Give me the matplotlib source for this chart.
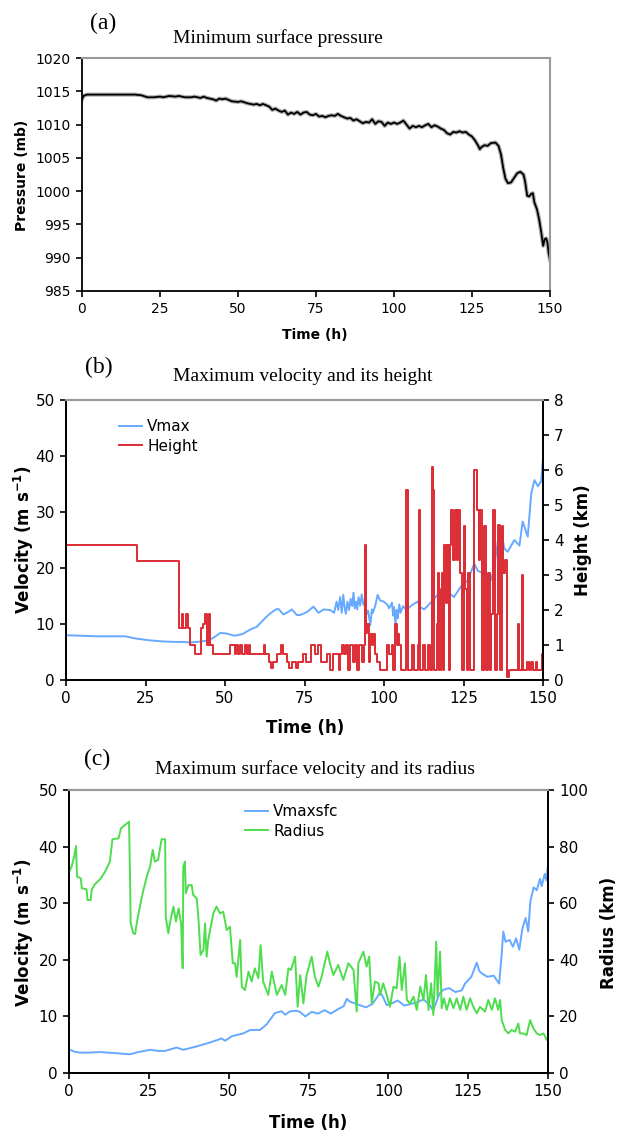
import numpy as np
import matplotlib
matplotlib.use('Agg')
import matplotlib.pyplot as plt

plt.rcParams['font.family'] = 'DejaVu Sans'
plt.rcParams['mathtext.fontset'] = 'dejavusans'

# (a) minimum surface pressure, (time h, mb)
pressure = [(0, 1013.8), (0.5, 1014.3), (1.5, 1014.5), (8, 1014.5), (17, 1014.5), (19, 1014.4),
            (21, 1014.1), (23, 1014.1), (25, 1014.2), (26, 1014.1), (28, 1014.3), (30, 1014.2),
            (31, 1014.3), (33, 1014.1), (35, 1014.1), (36, 1014.2), (38, 1014.0), (39, 1014.2),
            (40, 1014.0), (42, 1013.8), (43, 1013.6), (44, 1013.9), (45, 1013.8), (46, 1013.9),
            (48, 1013.5), (50, 1013.4), (51, 1013.5), (53, 1013.2), (55, 1013.0), (56, 1013.1),
            (57, 1012.9), (58, 1013.1), (59, 1012.9), (60, 1012.7), (61, 1012.2), (62, 1012.4),
            (63, 1012.1), (64, 1011.9), (65, 1012.1), (66, 1011.5), (67, 1011.8), (68, 1011.6),
            (69, 1011.9), (70, 1011.5), (71, 1011.8), (72, 1011.9), (73, 1011.5), (74, 1011.4),
            (75, 1011.6), (76, 1011.2), (77, 1011.3), (78, 1011.1), (79, 1011.3), (80, 1011.4),
            (81, 1011.3), (82, 1011.6), (83, 1011.3), (84, 1011.1), (85, 1010.9), (86, 1011.0),
            (87, 1010.6), (88, 1010.8), (89, 1010.5), (90, 1010.2), (91, 1010.4), (92, 1010.3),
            (93, 1010.8), (94, 1010.1), (95, 1010.5), (96, 1010.4), (97, 1009.8), (98, 1010.3),
            (99, 1010.1), (100, 1010.3), (101, 1010.1), (102, 1010.3), (103, 1010.6), (104, 1010.0),
            (105, 1009.4), (106, 1009.8), (107, 1009.6), (108, 1009.8), (109, 1009.6),
            (110, 1009.9), (111, 1010.1), (112, 1009.6), (113, 1009.9), (114, 1009.7),
            (115, 1009.4), (116, 1009.2), (117, 1008.7), (118, 1008.5), (119, 1008.9),
            (120, 1008.8), (121, 1009.0), (122, 1008.8), (123, 1008.9), (124, 1008.5),
            (125, 1008.2), (126, 1007.6), (127, 1006.8), (127.5, 1006.3), (128, 1006.6),
            (129, 1006.9), (130, 1006.8), (131, 1007.2), (132.5, 1007.3), (133.5, 1006.8),
            (134.3, 1005.5), (135, 1003.5), (135.7, 1001.9), (136.5, 1001.2), (137.5, 1001.3),
            (138.5, 1002.0), (139.5, 1002.7), (140.5, 1002.9), (141.5, 1002.5), (142, 1001.5),
            (142.7, 999.3), (143.3, 999.2), (144, 999.6), (144.5, 999.7), (145, 998.3),
            (145.8, 997.3), (146.5, 995.8), (147.2, 993.8), (147.8, 991.8), (148.3, 992.8),
            (148.8, 992.9), (149.2, 992.2), (149.6, 990.6), (150, 989.7)]

# (b) maximum velocity (m/s) and its height (km)
vmax = [(0, 8.0), (5, 7.9), (10, 7.8), (15, 7.8), (18.6, 7.8), (22, 7.4), (26, 7.1), (30, 6.9),
        (34, 6.8), (37, 6.8), (39, 6.7), (41, 6.8), (43, 6.9), (44.8, 7.1), (46.5, 7.6), (48.5, 8.4),
        (50.5, 8.3), (53, 7.9), (55.5, 8.2), (57.9, 9.0), (60, 9.5), (62, 10.7), (64, 11.8),
        (66, 12.6), (66.8, 12.7), (68.4, 11.7), (70, 12.2), (71, 12.6), (72.6, 11.6), (73.6, 11.6),
        (75.7, 12.1), (77.8, 13.1), (79.4, 12.0), (81, 12.6), (83, 12.5), (84.3, 12.0),
        (85.1, 14.0), (85.6, 12.5), (86.2, 14.8), (86.7, 12.0), (87.2, 15.2), (87.6, 13.0),
        (88, 11.8), (88.5, 14.0), (89, 12.5), (89.5, 14.5), (90, 13.2), (90.4, 15.6), (90.8, 12.8),
        (91.2, 14.0), (91.6, 12.6), (92, 14.8), (92.5, 13.3), (93, 15.3), (93.5, 13.5),
        (94.1, 13.1), (94.6, 11.8), (95, 12.4), (95.7, 9.8), (96.2, 12.6), (96.5, 12.0),
        (97.3, 13.4), (98, 15.2), (98.8, 14.2), (99.9, 14.0), (101, 13.5), (101.6, 12.8),
        (102.5, 13.8), (102.9, 11.5), (103.2, 13.0), (103.6, 10.0), (104.0, 12.5), (104.3, 11.0),
        (104.8, 13.5), (105.2, 12.0), (106, 13.2), (107, 12.5), (108.4, 13.2), (110.5, 14.0),
        (111.5, 13.0), (112.6, 12.6), (113.5, 13.1), (114.7, 13.8), (116.8, 15.2), (118.9, 16.1),
        (120.5, 15.5), (122, 14.8), (124.2, 16.7), (126.3, 17.8), (128.4, 20.8), (129.5, 19.5),
        (131, 19.1), (132.5, 18.5), (133.6, 17.8), (134.5, 19.5), (135.7, 24.4), (136.8, 27.0),
        (137.8, 23.5), (138.9, 22.9), (140, 24.0), (141, 25.0), (142.6, 24.0), (143.6, 28.3),
        (145.2, 25.6), (146.3, 33.3), (147.3, 35.7), (148.4, 34.6), (149.4, 35.5), (150, 39.6)]

height = [(0, 3.86), (22.4, 3.41), (35.6, 1.5), (36.4, 1.9), (36.9, 1.5), (37.6, 1.9), (38.3, 1.5),
          (39.0, 1.0), (40.6, 0.74), (42.4, 1.5), (43.0, 1.6), (43.6, 1.9), (44.4, 1.0), (44.9, 1.9),
          (45.3, 1.0), (46.3, 0.74), (51.6, 1.0), (53.0, 0.74), (53.5, 1.0), (54.2, 0.74), (54.8, 1.0),
          (55.5, 0.74), (56.2, 1.0), (56.8, 0.74), (57.4, 1.0), (58.0, 0.74), (62.2, 1.0), (62.6, 0.74),
          (63.8, 0.52), (64.5, 0.33), (65.0, 0.52), (66.5, 0.74), (67.6, 1.0), (68.2, 0.74),
          (69.5, 0.52), (70.2, 0.33), (71.0, 0.52), (72.3, 0.33), (73.0, 0.52), (74.6, 0.74),
          (75.6, 0.52), (77.2, 1.0), (78.2, 0.74), (79.3, 1.0), (80.3, 0.52), (82.0, 0.74),
          (83.0, 0.3), (84.1, 0.74), (85.7, 0.3), (86.2, 0.74), (86.7, 1.0), (87.4, 0.74), (88.0, 1.0),
          (88.8, 0.3), (89.3, 1.0), (90.2, 0.52), (90.9, 1.0), (91.6, 0.3), (92.2, 1.0), (93.0, 0.52),
          (93.8, 1.0), (94.1, 3.86), (94.4, 1.35), (94.8, 1.6), (95.2, 0.52), (95.6, 1.32),
          (96.1, 1.0), (96.6, 1.32), (97.1, 0.74), (97.7, 0.52), (98.7, 0.3), (101.0, 1.0),
          (101.6, 0.74), (102.4, 1.0), (102.9, 0.3), (103.5, 1.6), (104.0, 1.0), (104.3, 1.32),
          (104.8, 1.0), (105.5, 0.3), (107.0, 5.43), (107.4, 0.3), (108.9, 1.0), (109.4, 0.3),
          (110.7, 1.0), (111.0, 4.86), (111.3, 0.3), (112.4, 1.0), (112.9, 0.3), (113.9, 1.0),
          (114.4, 0.3), (115.0, 6.1), (115.4, 5.43), (115.8, 0.3), (116.6, 1.6), (117.0, 3.05),
          (117.4, 0.3), (117.9, 2.6), (118.2, 3.05), (118.6, 0.3), (119.0, 3.86), (119.4, 2.2),
          (119.8, 3.86), (120.3, 0.3), (120.7, 3.86), (121.2, 4.86), (121.8, 3.43), (122.3, 4.86),
          (122.8, 3.43), (123.4, 4.86), (123.9, 3.05), (124.4, 0.3), (125.0, 4.4), (125.5, 2.6),
          (126.0, 0.3), (126.5, 3.05), (127.0, 0.3), (128.4, 6.0), (129.4, 4.86), (129.8, 3.43),
          (130.2, 4.86), (130.7, 0.3), (131.6, 4.4), (132.0, 0.3), (132.8, 3.05), (133.3, 0.3),
          (133.8, 1.9), (134.4, 4.86), (134.9, 0.3), (135.4, 1.9), (135.9, 4.43), (136.4, 0.3),
          (137.0, 4.4), (137.5, 3.05), (138.1, 3.43), (138.6, 0.1), (139.3, 0.3), (142.2, 1.6),
          (142.6, 0.3), (143.3, 3.0), (143.7, 0.3), (145.0, 0.52), (145.5, 0.3), (146.1, 0.52),
          (146.8, 0.3), (147.7, 0.52), (148.2, 0.3), (149.6, 0.74), (150, 0.3)]

# (c) maximum surface velocity (m/s) and its radius (km)
vmaxsfc = [(0, 4.2), (1.5, 3.8), (3.4, 3.6), (6, 3.6), (9.7, 3.7), (12, 3.6), (14.9, 3.5),
           (19.1, 3.3), (21.7, 3.7), (25.4, 4.1), (28, 3.9), (30.1, 3.9), (33.7, 4.5), (35.8, 4.1),
           (40, 4.7), (44.2, 5.4), (47.8, 6.1), (48.9, 5.7), (51, 6.5), (54.6, 7.0), (56.7, 7.6),
           (59.8, 7.6), (61.9, 8.6), (64.5, 10.6), (66.6, 10.9), (67.7, 10.3), (69.2, 10.9),
           (71.3, 11.0), (72.3, 10.8), (74, 10.0), (76, 10.8), (78, 10.5), (80, 11.1), (82, 10.5),
           (84, 11.2), (86, 11.8), (87, 13.1), (88, 12.6), (89, 12.4), (91, 12.0), (93, 11.6),
           (95, 12.2), (96.5, 13.4), (97.4, 14.2), (98, 13.8), (99.5, 12.0), (101, 12.3),
           (103, 12.8), (105, 11.9), (107, 12.2), (109, 12.5), (111, 13.0), (113, 12.0),
           (114, 11.0), (115, 12.5), (116, 14.0), (117.2, 14.7), (119, 15.0), (121, 14.3),
           (123, 14.6), (124, 15.8), (126, 17.0), (127.7, 19.5), (128.5, 18.0), (129.5, 17.5),
           (131, 17.0), (133, 17.2), (134.7, 15.8), (135.5, 21.0), (136, 25.0), (136.7, 23.2),
           (138, 23.5), (139, 22.3), (140, 23.8), (141, 21.8), (142, 25.6), (143, 27.4),
           (143.8, 25.0), (144.5, 30.4), (145.5, 32.8), (146.5, 32.3), (147.5, 34.3), (148, 33.0),
           (149, 35.2), (149.5, 34.0), (150, 36.8)]

radius = [(0, 71.1), (0.8, 72.9), (1.6, 76.4), (2.2, 80.2), (2.5, 69.4), (3.7, 68.8), (4.0, 65.3),
          (5.5, 64.9), (5.8, 61.1), (6.8, 61.1), (7.1, 64.7), (8.1, 66.7), (9.7, 68.4), (11.3, 71.1),
          (12.8, 74.7), (13.6, 82.6), (15.5, 82.9), (16.3, 86.5), (17.5, 87.6), (18.8, 88.8),
          (19.1, 70.0), (19.3, 53.1), (20.1, 49.4), (20.7, 49.1), (21.4, 54.1), (22.2, 58.8),
          (23.3, 64.7), (24.5, 70.0), (25.4, 72.9), (26.2, 78.8), (26.9, 74.7), (27.9, 75.3),
          (29.0, 82.6), (30.1, 82.6), (30.3, 55.2), (31.1, 49.4), (31.6, 52.9), (32.7, 58.8),
          (33.5, 53.5), (34.3, 58.2), (35.1, 52.9), (35.6, 37.0), (35.8, 72.9), (36.3, 74.7),
          (36.6, 63.5), (37.4, 66.4), (38.4, 66.4), (38.9, 62.9), (40.0, 61.7), (40.5, 55.2),
          (41.2, 41.7), (42.1, 43.5), (42.6, 52.9), (43.1, 41.1), (43.6, 47.0), (45.2, 56.4),
          (46.2, 58.8), (47.3, 56.4), (48.3, 57.0), (49.4, 50.5), (50.4, 51.7), (51.3, 38.8),
          (52.0, 38.8), (52.5, 34.0), (53.6, 47.0), (54.1, 30.5), (55.1, 29.3), (56.2, 35.8),
          (57.2, 32.3), (58.2, 37.0), (59.3, 33.5), (60.0, 45.2), (60.8, 32.3), (62.4, 27.6),
          (63.5, 35.8), (65.1, 27.6), (66.6, 31.1), (67.7, 27.6), (68.7, 37.0), (69.5, 36.4),
          (70.8, 41.1), (71.6, 23.4), (72.4, 34.6), (73.4, 24.6), (74.4, 34.6), (76.0, 41.1),
          (77.0, 34.0), (78.1, 30.5), (79.1, 34.0), (80.9, 42.9), (81.7, 38.8), (82.8, 34.6),
          (84.3, 38.2), (85.9, 32.9), (87.5, 38.8), (89.1, 36.4), (90.1, 21.7), (90.6, 38.8),
          (92.2, 42.9), (93.2, 37.6), (94.0, 41.1), (94.8, 24.6), (95.8, 32.3), (96.9, 31.7),
          (97.4, 27.6), (98.4, 31.7), (99.5, 27.6), (100.5, 23.4), (101.6, 30.5), (102.6, 29.9),
          (103.5, 41.1), (104.2, 29.3), (105.2, 38.8), (105.8, 25.8), (106.8, 24.6), (107.9, 27.0),
          (108.9, 22.3), (110.0, 30.5), (111.0, 25.8), (111.8, 34.6), (112.6, 22.3), (113.4, 31.7),
          (114.1, 20.5), (115.0, 46.4), (115.4, 27.0), (116.2, 42.9), (116.7, 22.9), (117.4, 26.4),
          (118.3, 22.3), (119.3, 26.4), (120.4, 22.9), (121.4, 26.4), (122.5, 22.3), (123.5, 27.0),
          (124.5, 22.3), (125.6, 26.4), (126.6, 23.4), (127.7, 21.1), (128.7, 23.4), (130.3, 21.7),
          (131.3, 25.8), (132.4, 22.3), (133.4, 26.4), (134.4, 22.3), (135.0, 25.8), (135.5, 18.7),
          (136.6, 15.2), (137.6, 14.0), (138.6, 15.2), (139.7, 14.6), (140.7, 17.5), (141.2, 14.0),
          (142.3, 14.0), (143.3, 13.4), (144.4, 18.7), (145.4, 15.8), (146.5, 14.0), (147.5, 13.4),
          (148.6, 14.0), (149.6, 11.7), (150, 12.8)]

time_ticks = [0, 25, 50, 75, 100, 125, 150]

blue = '#66aaff'
red = '#dd2c34'
green = '#4ddd4d'
W, H = 620., 1132.


def px(x, y):
    return x / W, 1 - y / H


def style(ax, right_dark=False):
    ax.spines['top'].set_color('#9a9a9a')
    ax.spines['top'].set_linewidth(1.5)
    ax.spines['right'].set_color('black' if right_dark else '#9a9a9a')
    ax.spines['right'].set_linewidth(1.5 if not right_dark else 1.3)
    ax.spines['left'].set_linewidth(1.3)
    ax.spines['bottom'].set_linewidth(1.3)
    ax.tick_params(direction='out', length=4, width=1.2, labelsize=11, pad=4)
    ax.set_xlim(0, 150)
    ax.set_xticks(time_ticks)


fig = plt.figure(figsize=(6.2, 11.32), dpi=100)

# ---- (a)
ax_a = fig.add_axes([82 / W, 1 - 291 / H, 468 / W, 233 / H])
t, p = np.array(pressure).T
ax_a.plot(t, p, color='#b0b0b0', lw=3.0)
ax_a.plot(t, p, color='black', lw=1.3)
style(ax_a)
ax_a.set_ylim(985, 1020)
ax_a.set_yticks(np.arange(985, 1021, 5))
ax_a.tick_params(labelsize=10)

# ---- (b)
ax_b = fig.add_axes([66 / W, 1 - 680 / H, 477 / W, 280 / H])
ax_b2 = ax_b.twinx()
t, v = np.array(vmax).T
l1, = ax_b.plot(t, v, color=blue, lw=1.4, label='Vmax')
t, h = np.array(height).T
l2, = ax_b2.plot(t, h, color=red, lw=1.4, drawstyle='steps-post', label='Height')
style(ax_b, True)
style(ax_b2, True)
ax_b.set_ylim(0, 50)
ax_b.set_yticks(np.arange(0, 51, 10))
ax_b2.set_ylim(0, 8)
ax_b2.set_yticks(np.arange(0, 9, 1))
ax_b2.legend([l1, l2], ['Vmax', 'Height'], loc='upper left', frameon=False, fontsize=11,
             bbox_to_anchor=px(119, 419), bbox_transform=fig.transFigure, borderpad=0,
             borderaxespad=0, handlelength=1.5, handletextpad=0.35, labelspacing=0.3)

# ---- (c)
ax_c = fig.add_axes([69 / W, 1 - 1073 / H, 479 / W, 283 / H])
ax_c2 = ax_c.twinx()
t, v = np.array(vmaxsfc).T
l1, = ax_c.plot(t, v, color=blue, lw=1.4)
t, r = np.array(radius).T
l2, = ax_c2.plot(t, r, color=green, lw=1.4)
style(ax_c, True)
style(ax_c2, True)
ax_c.set_ylim(0, 50)
ax_c.set_yticks(np.arange(0, 51, 10))
ax_c2.set_ylim(0, 100)
ax_c2.set_yticks(np.arange(0, 101, 20))
ax_c2.legend([l1, l2], ['Vmaxsfc', 'Radius'], loc='upper left', frameon=False, fontsize=11,
             bbox_to_anchor=px(245, 804), bbox_transform=fig.transFigure, borderpad=0,
             borderaxespad=0, handlelength=1.5, handletextpad=0.35, labelspacing=0.3)

# ---- text
serif = 'Liberation Serif'
for x, y, s in [(103, 23, '(a)'), (99, 367, '(b)'), (97, 759, '(c)')]:
    fig.text(*px(x, y), s, family=serif, fontsize=17, ha='center', va='center')
for x, y, s in [(278, 38, 'Minimum surface pressure'),
                (303, 377, 'Maximum velocity and its height'),
                (315, 769, 'Maximum surface velocity and its radius')]:
    fig.text(*px(x, y), s, family=serif, fontsize=14, ha='center', va='center')

fig.text(*px(315, 335), 'Time (h)', fontsize=10, weight='bold', ha='center', va='center')
fig.text(*px(305, 728), 'Time (h)', fontsize=12, weight='bold', ha='center', va='center')
fig.text(*px(308, 1123), 'Time (h)', fontsize=12, weight='bold', ha='center', va='center')
fig.text(*px(22, 175), 'Pressure (mb)', fontsize=10, weight='bold', rotation=90,
         ha='center', va='center')
vel = r'Velocity (m s$^{\mathbf{-1}}$)'
fig.text(*px(24, 540), vel, fontsize=12, weight='bold', rotation=90, ha='center', va='center')
fig.text(*px(24, 933), vel, fontsize=12, weight='bold', rotation=90, ha='center', va='center')
fig.text(*px(583, 540), 'Height (km)', fontsize=12, weight='bold', rotation=90,
         ha='center', va='center')
fig.text(*px(609, 933), 'Radius (km)', fontsize=12, weight='bold', rotation=90,
         ha='center', va='center')

fig.savefig('out.png', dpi=100)
